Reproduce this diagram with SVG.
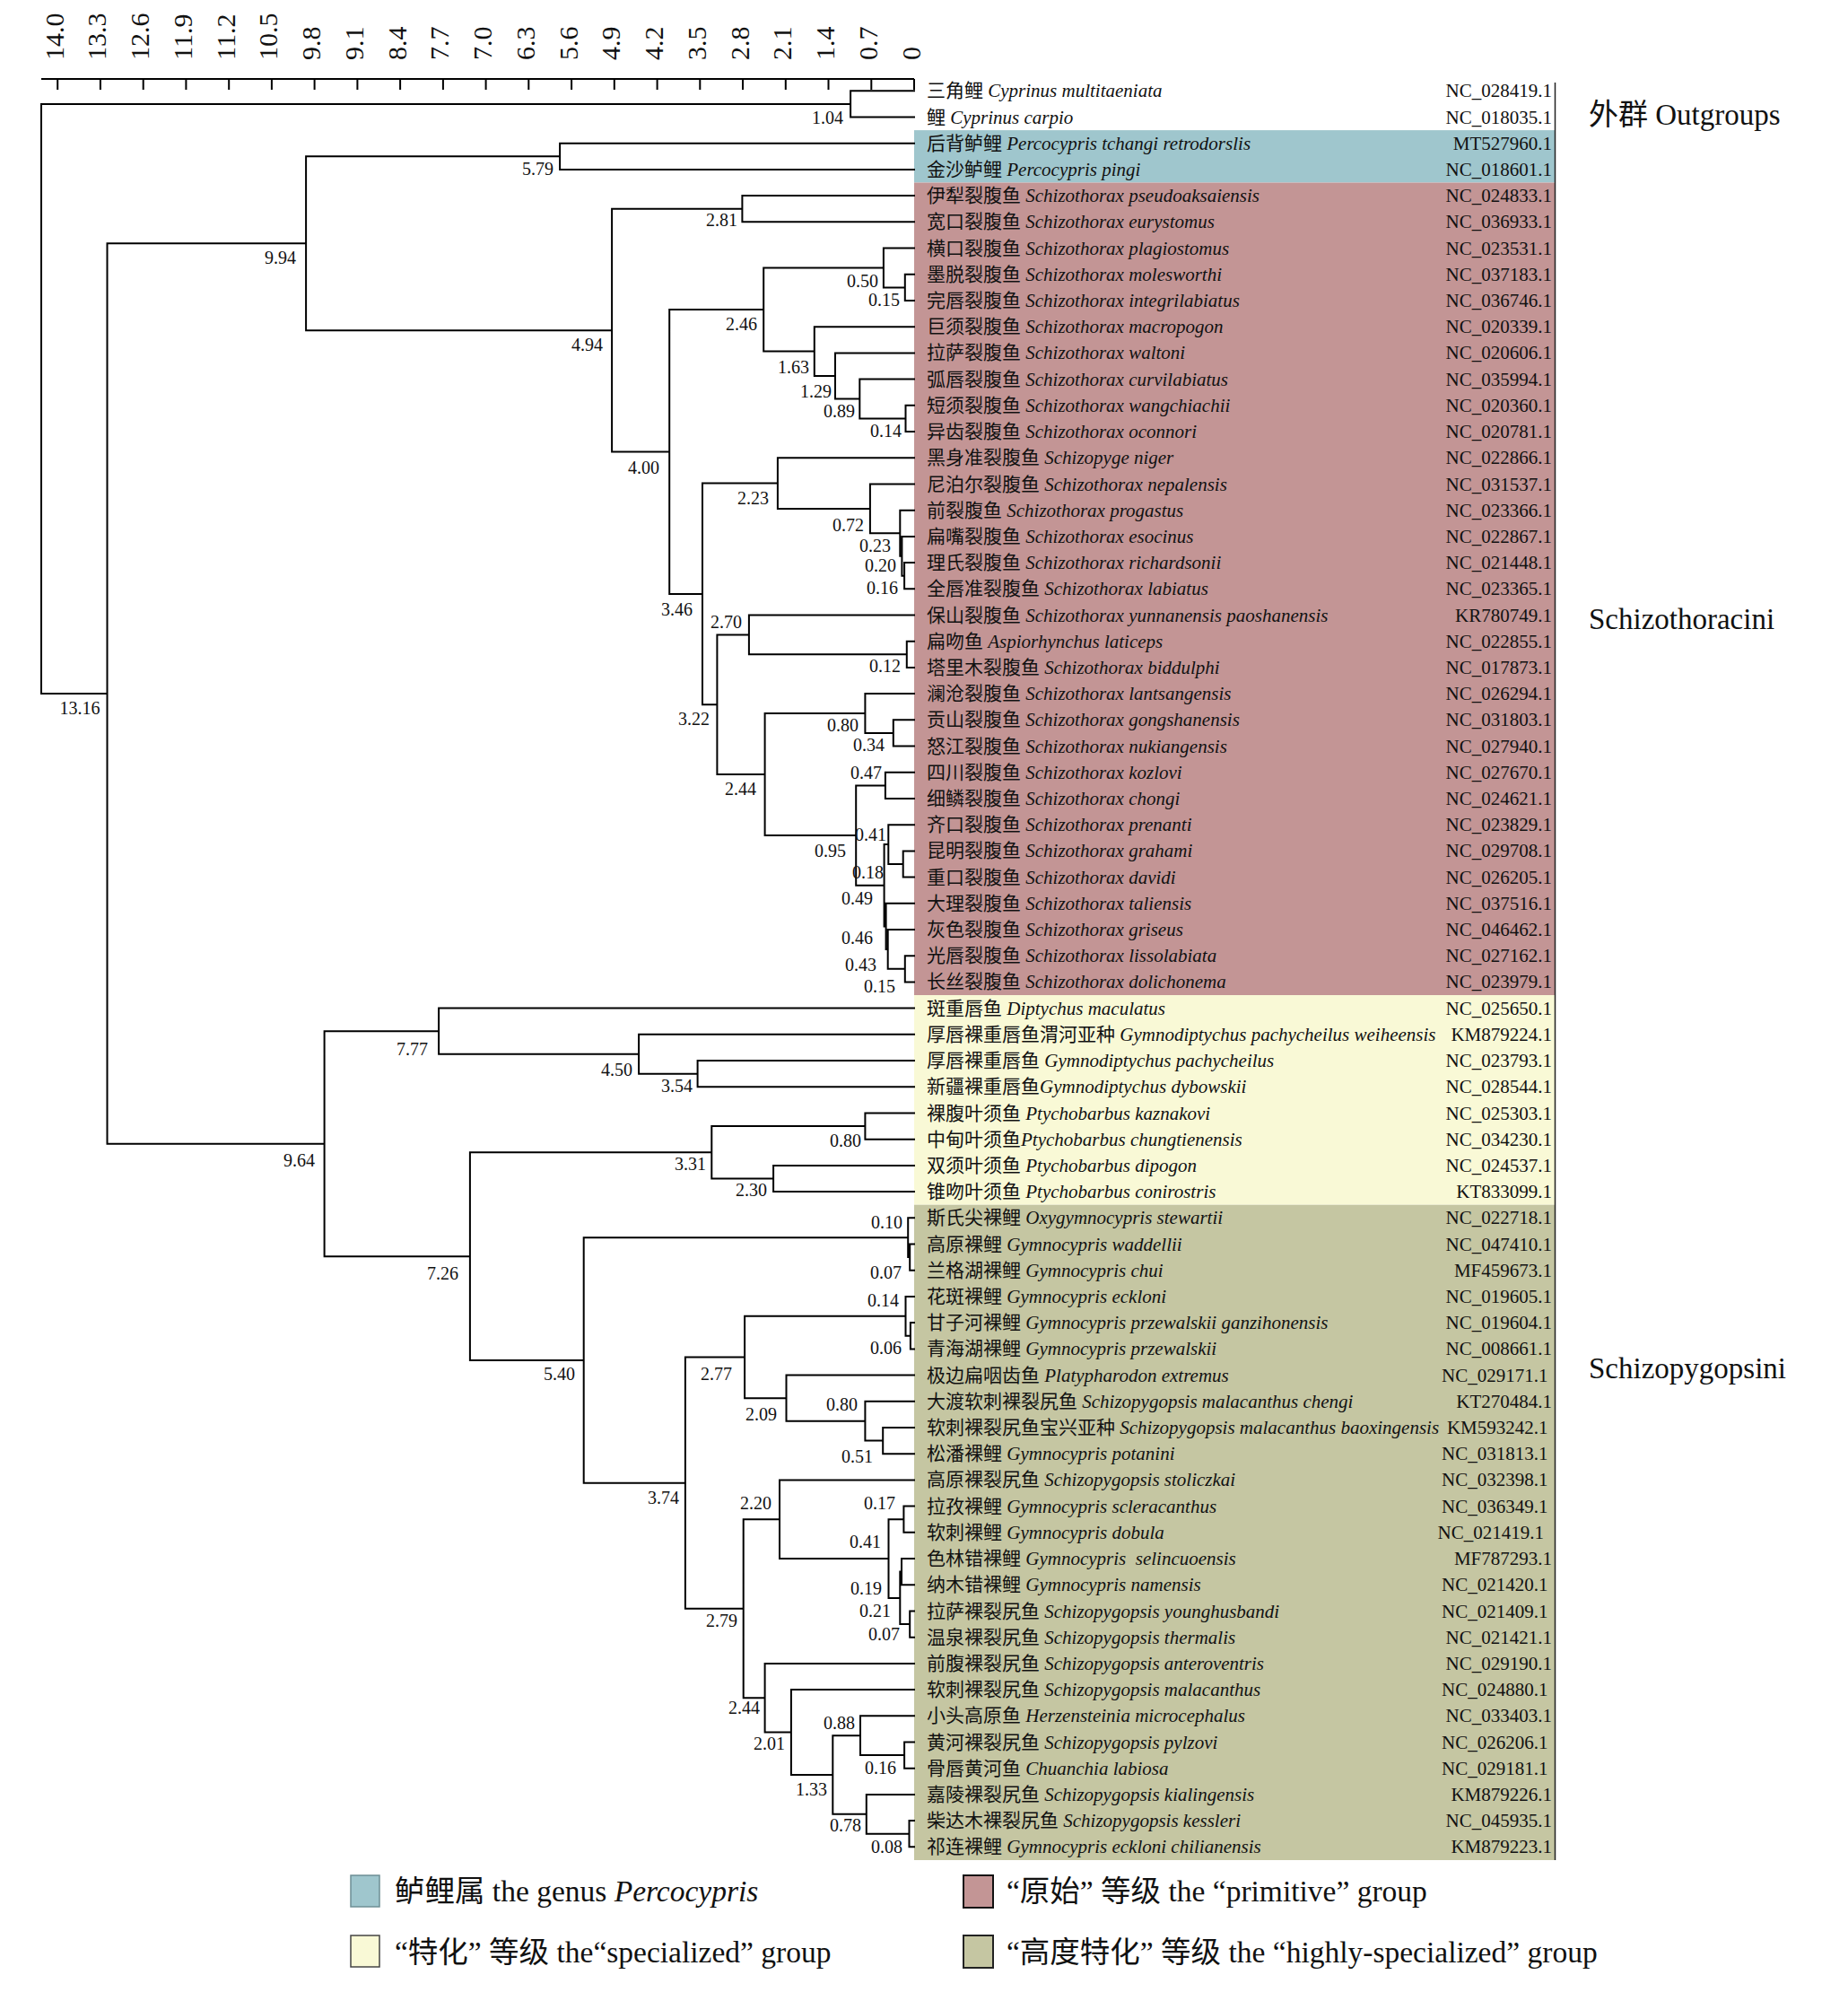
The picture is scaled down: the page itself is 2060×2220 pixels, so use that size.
<svg xmlns="http://www.w3.org/2000/svg" width="2060" height="2220" viewBox="0 0 2060 2220">
<style>
text{font-family:"Liberation Serif","Noto Sans CJK SC",serif;fill:#111}
.sp{font-size:21px}
.it{font-style:italic}
.acc{font-size:21px;text-anchor:end}
.bl{font-size:20px;text-anchor:end}
.grp{font-size:33px}
.ax{font-size:30px;dominant-baseline:central}
.lg{font-size:33.5px}
.br{fill:none;stroke:#000;stroke-width:2;stroke-linecap:square;stroke-linejoin:miter}
.tk{fill:none;stroke:#000;stroke-width:2}
</style>
<rect width="2060" height="2220" fill="#fff"/>
<g id="bands">
<rect x="1019" y="145.1" width="714" height="58.4" fill="#9fc6cd"/>
<rect x="1019" y="203.5" width="714" height="905.5" fill="#c39595"/>
<rect x="1019" y="1109" width="714" height="233.7" fill="#f9f9d6"/>
<rect x="1019" y="1342.7" width="714" height="730.3" fill="#c5c6a2"/>
<line x1="1733.5" y1="92" x2="1733.5" y2="2073" stroke="#222" stroke-width="1.5"/>
</g>
<g id="axis">
<path class="tk" d="M46 88H1019M64.2 88V100M111.9 88V100M159.7 88V100M207.4 88V100M255.2 88V100M302.9 88V100M350.6 88V100M398.4 88V100M446.1 88V100M493.9 88V100M541.6 88V100M589.3 88V100M637.1 88V100M684.8 88V100M732.6 88V100M780.3 88V100M828 88V100M875.8 88V100M923.5 88V100M971.3 88V100M1019 88V100"/>
<text class="ax" transform="translate(60.2,67) rotate(-90)">14.0</text>
<text class="ax" transform="translate(107.9,67) rotate(-90)">13.3</text>
<text class="ax" transform="translate(155.7,67) rotate(-90)">12.6</text>
<text class="ax" transform="translate(203.4,67) rotate(-90)">11.9</text>
<text class="ax" transform="translate(251.2,67) rotate(-90)">11.2</text>
<text class="ax" transform="translate(298.9,67) rotate(-90)">10.5</text>
<text class="ax" transform="translate(346.6,67) rotate(-90)">9.8</text>
<text class="ax" transform="translate(394.4,67) rotate(-90)">9.1</text>
<text class="ax" transform="translate(442.1,67) rotate(-90)">8.4</text>
<text class="ax" transform="translate(489.9,67) rotate(-90)">7.7</text>
<text class="ax" transform="translate(537.6,67) rotate(-90)">7.0</text>
<text class="ax" transform="translate(585.3,67) rotate(-90)">6.3</text>
<text class="ax" transform="translate(633.1,67) rotate(-90)">5.6</text>
<text class="ax" transform="translate(680.8,67) rotate(-90)">4.9</text>
<text class="ax" transform="translate(728.6,67) rotate(-90)">4.2</text>
<text class="ax" transform="translate(776.3,67) rotate(-90)">3.5</text>
<text class="ax" transform="translate(824,67) rotate(-90)">2.8</text>
<text class="ax" transform="translate(871.8,67) rotate(-90)">2.1</text>
<text class="ax" transform="translate(919.5,67) rotate(-90)">1.4</text>
<text class="ax" transform="translate(967.3,67) rotate(-90)">0.7</text>
<text class="ax" transform="translate(1015,67) rotate(-90)">0</text>
</g>
<g id="connectors">
<path class="br" d="M948.1 115.9H46V773H119.5
M341.1 271.3H119.5V1274.7H361.6
M624.1 174.3H341.1V368.2H682.1
M1019 159.7H624.1V188.9H1019
M1019 101.3H948.1V130.5H1019
M827.4 232.7H682.1V503.6H746.2
M1019 218.1H827.4V247.3H1019
M851.2 345.1H746.2V662H783
M984.9 298.5H851.2V391.6H907.8
M1019 276.6H984.9V320.4H1008.8
M1019 305.8H1008.8V335H1019
M1019 364.2H907.8V419H931
M1019 393.4H931V444.5H958.3
M1019 422.6H958.3V466.4H1009.5
M1019 451.8H1009.5V481H1019
M866.9 538.6H783V785.3H799.4
M1019 510.2H866.9V566.9H969.9
M1019 539.5H969.9V594.3H1003.3
M1019 568.7H1003.3V619.8H1005.4
M1019 597.9H1005.4V641.7H1008.1
M1019 627.1H1008.1V656.3H1019
M834.9 707.4H799.4V863.1H852.6
M1019 685.5H834.9V729.3H1010.8
M1019 714.7H1010.8V743.9H1019
M964.4 795H852.6V931.1H954.2
M1019 773.1H964.4V816.9H995.8
M1019 802.3H995.8V831.5H1019
M986.9 875.4H954.2V986.8H985.6
M1019 860.8H986.9V890H1019
M990.3 941.1H985.6V1032.4H987.6
M1019 919.2H990.3V963H1006.7
M1019 948.4H1006.7V977.6H1019
M1019 1006.8H987.6V1057.9H989.7
M1019 1036H989.7V1079.8H1008.8
M1019 1065.2H1008.8V1094.4H1019
M489.1 1149.2H361.6V1400.2H523.9
M1019 1123.6H489.1V1174.8H712.1
M1019 1152.8H712.1V1196.7H777.6
M1019 1182.1H777.6V1211.3H1019
M793.3 1284.3H523.9V1516H650.7
M964.4 1255.1H793.3V1313.5H862.1
M1019 1240.5H964.4V1269.7H1019
M1019 1298.9H862.1V1328.1H1019
M1012.2 1379.2H650.7V1652.7H763.9
M1019 1357.3H1012.2V1401.1H1014.2
M1019 1386.5H1014.2V1415.7H1019
M830.1 1512.5H763.9V1792.8H828.7
M1009.5 1466.8H830.1V1558.2H876.5
M1019 1444.9H1009.5V1488.8H1014.9
M1019 1474.1H1014.9V1503.4H1019
M1019 1532.6H876.5V1583.7H964.4
M1019 1561.8H964.4V1605.6H984.2
M1019 1591H984.2V1620.2H1019
M869 1693.2H828.7V1892.3H852.6
M1019 1649.4H869V1737H990.5
M1007.4 1693.2H990.5V1780.9H1003.3
M1019 1678.6H1007.4V1707.8H1019
M1005 1751.6H1003.3V1810.1H1014.2
M1019 1737H1005V1766.2H1019
M1019 1795.5H1014.2V1824.7H1019
M1019 1853.9H852.6V1930.6H881.9
M1019 1883.1H881.9V1978H928.3
M959 1934.2H928.3V2021.8H965.8
M1019 1912.3H959V1956.1H1008.1
M1019 1941.5H1008.1V1970.7H1019
M1019 1999.9H965.8V2043.7H1013.5
M1019 2029.1H1013.5V2058.3H1019"/>
</g>
<g id="node-labels">
<g id="n104"><text class="bl" x="940" y="138">1.04</text></g>
<g id="n579"><text class="bl" x="617" y="195">5.79</text></g>
<g id="n994"><text class="bl" x="330" y="294">9.94</text></g>
<g id="n1316"><text class="bl" x="111.5" y="796">13.16</text></g>
<g id="n281"><text class="bl" x="822" y="252">2.81</text></g>
<g id="n494"><text class="bl" x="672" y="391">4.94</text></g>
<g id="n400"><text class="bl" x="735" y="528">4.00</text></g>
<g id="n246"><text class="bl" x="844" y="368">2.46</text></g>
<g id="n050"><text class="bl" x="979" y="320">0.50</text></g>
<g id="n015a"><text class="bl" x="1003" y="341">0.15</text></g>
<g id="n163"><text class="bl" x="902" y="416">1.63</text></g>
<g id="n129"><text class="bl" x="927" y="443">1.29</text></g>
<g id="n089"><text class="bl" x="953" y="465">0.89</text></g>
<g id="n014a"><text class="bl" x="1005" y="487">0.14</text></g>
<g id="n223"><text class="bl" x="857" y="562">2.23</text></g>
<g id="n072"><text class="bl" x="963" y="592">0.72</text></g>
<g id="n023"><text class="bl" x="993" y="615">0.23</text></g>
<g id="n020"><text class="bl" x="999" y="637">0.20</text></g>
<g id="n016a"><text class="bl" x="1001" y="662">0.16</text></g>
<g id="n346"><text class="bl" x="772" y="686">3.46</text></g>
<g id="n270"><text class="bl" x="827" y="700">2.70</text></g>
<g id="n012"><text class="bl" x="1004" y="749">0.12</text></g>
<g id="n322"><text class="bl" x="791" y="808">3.22</text></g>
<g id="n080a"><text class="bl" x="957" y="815">0.80</text></g>
<g id="n034"><text class="bl" x="986" y="837">0.34</text></g>
<g id="n244a"><text class="bl" x="843" y="886">2.44</text></g>
<g id="n047"><text class="bl" x="983" y="868">0.47</text></g>
<g id="n095"><text class="bl" x="943" y="955">0.95</text></g>
<g id="n041a"><text class="bl" x="988" y="937">0.41</text></g>
<g id="n018"><text class="bl" x="985" y="979">0.18</text></g>
<g id="n049"><text class="bl" x="973" y="1008">0.49</text></g>
<g id="n046"><text class="bl" x="973" y="1052">0.46</text></g>
<g id="n043"><text class="bl" x="977" y="1082">0.43</text></g>
<g id="n015b"><text class="bl" x="998" y="1106">0.15</text></g>
<g id="n777"><text class="bl" x="477" y="1176">7.77</text></g>
<g id="n450"><text class="bl" x="705" y="1199">4.50</text></g>
<g id="n354"><text class="bl" x="772" y="1217">3.54</text></g>
<g id="n964"><text class="bl" x="351" y="1300">9.64</text></g>
<g id="n080b"><text class="bl" x="960" y="1278">0.80</text></g>
<g id="n331"><text class="bl" x="787" y="1304">3.31</text></g>
<g id="n230"><text class="bl" x="855" y="1333">2.30</text></g>
<g id="n726"><text class="bl" x="511" y="1426">7.26</text></g>
<g id="n010"><text class="bl" x="1006" y="1369">0.10</text></g>
<g id="n007a"><text class="bl" x="1005" y="1425">0.07</text></g>
<g id="n014b"><text class="bl" x="1002" y="1456">0.14</text></g>
<g id="n006"><text class="bl" x="1005" y="1509">0.06</text></g>
<g id="n540"><text class="bl" x="641" y="1538">5.40</text></g>
<g id="n277"><text class="bl" x="816" y="1538">2.77</text></g>
<g id="n209"><text class="bl" x="866" y="1583">2.09</text></g>
<g id="n080c"><text class="bl" x="956" y="1572">0.80</text></g>
<g id="n051"><text class="bl" x="973" y="1630">0.51</text></g>
<g id="n374"><text class="bl" x="757" y="1676">3.74</text></g>
<g id="n220"><text class="bl" x="860" y="1682">2.20</text></g>
<g id="n017"><text class="bl" x="998" y="1682">0.17</text></g>
<g id="n041b"><text class="bl" x="982" y="1725">0.41</text></g>
<g id="n019"><text class="bl" x="983" y="1777">0.19</text></g>
<g id="n021"><text class="bl" x="993" y="1802">0.21</text></g>
<g id="n007b"><text class="bl" x="1003" y="1828">0.07</text></g>
<g id="n279"><text class="bl" x="822" y="1813">2.79</text></g>
<g id="n244b"><text class="bl" x="847" y="1910">2.44</text></g>
<g id="n088"><text class="bl" x="953" y="1927">0.88</text></g>
<g id="n201"><text class="bl" x="875" y="1950">2.01</text></g>
<g id="n016b"><text class="bl" x="999" y="1977">0.16</text></g>
<g id="n133"><text class="bl" x="922" y="2001">1.33</text></g>
<g id="n078"><text class="bl" x="960" y="2041">0.78</text></g>
<g id="n008"><text class="bl" x="1006" y="2065">0.08</text></g>
</g>
<g id="tips">
<g id="t01"><text class="sp" x="1033" y="108.3">三角鲤 <tspan class="it">Cyprinus multitaeniata</tspan></text><text class="acc" x="1730" y="108.3">NC_028419.1</text></g>
<g id="t02"><text class="sp" x="1033" y="137.5">鲤 <tspan class="it">Cyprinus carpio</tspan></text><text class="acc" x="1730" y="137.5">NC_018035.1</text></g>
<g id="t03"><text class="sp" x="1033" y="166.7">后背鲈鲤 <tspan class="it">Percocypris tchangi retrodorslis</tspan></text><text class="acc" x="1730" y="166.7">MT527960.1</text></g>
<g id="t04"><text class="sp" x="1033" y="195.9">金沙鲈鲤 <tspan class="it">Percocypris pingi</tspan></text><text class="acc" x="1730" y="195.9">NC_018601.1</text></g>
<g id="t05"><text class="sp" x="1033" y="225.1">伊犁裂腹鱼 <tspan class="it">Schizothorax pseudoaksaiensis</tspan></text><text class="acc" x="1730" y="225.1">NC_024833.1</text></g>
<g id="t06"><text class="sp" x="1033" y="254.3">宽口裂腹鱼 <tspan class="it">Schizothorax eurystomus</tspan></text><text class="acc" x="1730" y="254.3">NC_036933.1</text></g>
<g id="t07"><text class="sp" x="1033" y="283.6">横口裂腹鱼 <tspan class="it">Schizothorax plagiostomus</tspan></text><text class="acc" x="1730" y="283.6">NC_023531.1</text></g>
<g id="t08"><text class="sp" x="1033" y="312.8">墨脱裂腹鱼 <tspan class="it">Schizothorax molesworthi</tspan></text><text class="acc" x="1730" y="312.8">NC_037183.1</text></g>
<g id="t09"><text class="sp" x="1033" y="342">完唇裂腹鱼 <tspan class="it">Schizothorax integrilabiatus</tspan></text><text class="acc" x="1730" y="342">NC_036746.1</text></g>
<g id="t10"><text class="sp" x="1033" y="371.2">巨须裂腹鱼 <tspan class="it">Schizothorax macropogon</tspan></text><text class="acc" x="1730" y="371.2">NC_020339.1</text></g>
<g id="t11"><text class="sp" x="1033" y="400.4">拉萨裂腹鱼 <tspan class="it">Schizothorax waltoni</tspan></text><text class="acc" x="1730" y="400.4">NC_020606.1</text></g>
<g id="t12"><text class="sp" x="1033" y="429.6">弧唇裂腹鱼 <tspan class="it">Schizothorax curvilabiatus</tspan></text><text class="acc" x="1730" y="429.6">NC_035994.1</text></g>
<g id="t13"><text class="sp" x="1033" y="458.8">短须裂腹鱼 <tspan class="it">Schizothorax wangchiachii</tspan></text><text class="acc" x="1730" y="458.8">NC_020360.1</text></g>
<g id="t14"><text class="sp" x="1033" y="488">异齿裂腹鱼 <tspan class="it">Schizothorax oconnori</tspan></text><text class="acc" x="1730" y="488">NC_020781.1</text></g>
<g id="t15"><text class="sp" x="1033" y="517.2">黑身准裂腹鱼 <tspan class="it">Schizopyge niger</tspan></text><text class="acc" x="1730" y="517.2">NC_022866.1</text></g>
<g id="t16"><text class="sp" x="1033" y="546.5">尼泊尔裂腹鱼 <tspan class="it">Schizothorax nepalensis</tspan></text><text class="acc" x="1730" y="546.5">NC_031537.1</text></g>
<g id="t17"><text class="sp" x="1033" y="575.7">前裂腹鱼 <tspan class="it">Schizothorax progastus</tspan></text><text class="acc" x="1730" y="575.7">NC_023366.1</text></g>
<g id="t18"><text class="sp" x="1033" y="604.9">扁嘴裂腹鱼 <tspan class="it">Schizothorax esocinus</tspan></text><text class="acc" x="1730" y="604.9">NC_022867.1</text></g>
<g id="t19"><text class="sp" x="1033" y="634.1">理氏裂腹鱼 <tspan class="it">Schizothorax richardsonii</tspan></text><text class="acc" x="1730" y="634.1">NC_021448.1</text></g>
<g id="t20"><text class="sp" x="1033" y="663.3">全唇准裂腹鱼 <tspan class="it">Schizothorax labiatus</tspan></text><text class="acc" x="1730" y="663.3">NC_023365.1</text></g>
<g id="t21"><text class="sp" x="1033" y="692.5">保山裂腹鱼 <tspan class="it">Schizothorax yunnanensis paoshanensis</tspan></text><text class="acc" x="1730" y="692.5">KR780749.1</text></g>
<g id="t22"><text class="sp" x="1033" y="721.7">扁吻鱼 <tspan class="it">Aspiorhynchus laticeps</tspan></text><text class="acc" x="1730" y="721.7">NC_022855.1</text></g>
<g id="t23"><text class="sp" x="1033" y="750.9">塔里木裂腹鱼 <tspan class="it">Schizothorax biddulphi</tspan></text><text class="acc" x="1730" y="750.9">NC_017873.1</text></g>
<g id="t24"><text class="sp" x="1033" y="780.1">澜沧裂腹鱼 <tspan class="it">Schizothorax lantsangensis</tspan></text><text class="acc" x="1730" y="780.1">NC_026294.1</text></g>
<g id="t25"><text class="sp" x="1033" y="809.3">贡山裂腹鱼 <tspan class="it">Schizothorax gongshanensis</tspan></text><text class="acc" x="1730" y="809.3">NC_031803.1</text></g>
<g id="t26"><text class="sp" x="1033" y="838.5">怒江裂腹鱼 <tspan class="it">Schizothorax nukiangensis</tspan></text><text class="acc" x="1730" y="838.5">NC_027940.1</text></g>
<g id="t27"><text class="sp" x="1033" y="867.8">四川裂腹鱼 <tspan class="it">Schizothorax kozlovi</tspan></text><text class="acc" x="1730" y="867.8">NC_027670.1</text></g>
<g id="t28"><text class="sp" x="1033" y="897">细鳞裂腹鱼 <tspan class="it">Schizothorax chongi</tspan></text><text class="acc" x="1730" y="897">NC_024621.1</text></g>
<g id="t29"><text class="sp" x="1033" y="926.2">齐口裂腹鱼 <tspan class="it">Schizothorax prenanti</tspan></text><text class="acc" x="1730" y="926.2">NC_023829.1</text></g>
<g id="t30"><text class="sp" x="1033" y="955.4">昆明裂腹鱼 <tspan class="it">Schizothorax grahami</tspan></text><text class="acc" x="1730" y="955.4">NC_029708.1</text></g>
<g id="t31"><text class="sp" x="1033" y="984.6">重口裂腹鱼 <tspan class="it">Schizothorax davidi</tspan></text><text class="acc" x="1730" y="984.6">NC_026205.1</text></g>
<g id="t32"><text class="sp" x="1033" y="1013.8">大理裂腹鱼 <tspan class="it">Schizothorax taliensis</tspan></text><text class="acc" x="1730" y="1013.8">NC_037516.1</text></g>
<g id="t33"><text class="sp" x="1033" y="1043">灰色裂腹鱼 <tspan class="it">Schizothorax griseus</tspan></text><text class="acc" x="1730" y="1043">NC_046462.1</text></g>
<g id="t34"><text class="sp" x="1033" y="1072.2">光唇裂腹鱼 <tspan class="it">Schizothorax lissolabiata</tspan></text><text class="acc" x="1730" y="1072.2">NC_027162.1</text></g>
<g id="t35"><text class="sp" x="1033" y="1101.4">长丝裂腹鱼 <tspan class="it">Schizothorax dolichonema</tspan></text><text class="acc" x="1730" y="1101.4">NC_023979.1</text></g>
<g id="t36"><text class="sp" x="1033" y="1130.6">斑重唇鱼 <tspan class="it">Diptychus maculatus</tspan></text><text class="acc" x="1730" y="1130.6">NC_025650.1</text></g>
<g id="t37"><text class="sp" x="1033" y="1159.8">厚唇裸重唇鱼渭河亚种 <tspan class="it">Gymnodiptychus pachycheilus weiheensis</tspan></text><text class="acc" x="1730" y="1159.8">KM879224.1</text></g>
<g id="t38"><text class="sp" x="1033" y="1189.1">厚唇裸重唇鱼 <tspan class="it">Gymnodiptychus pachycheilus</tspan></text><text class="acc" x="1730" y="1189.1">NC_023793.1</text></g>
<g id="t39"><text class="sp" x="1033" y="1218.3">新疆裸重唇鱼<tspan class="it">Gymnodiptychus dybowskii</tspan></text><text class="acc" x="1730" y="1218.3">NC_028544.1</text></g>
<g id="t40"><text class="sp" x="1033" y="1247.5">裸腹叶须鱼 <tspan class="it">Ptychobarbus kaznakovi</tspan></text><text class="acc" x="1730" y="1247.5">NC_025303.1</text></g>
<g id="t41"><text class="sp" x="1033" y="1276.7">中甸叶须鱼<tspan class="it">Ptychobarbus chungtienensis</tspan></text><text class="acc" x="1730" y="1276.7">NC_034230.1</text></g>
<g id="t42"><text class="sp" x="1033" y="1305.9">双须叶须鱼 <tspan class="it">Ptychobarbus dipogon</tspan></text><text class="acc" x="1730" y="1305.9">NC_024537.1</text></g>
<g id="t43"><text class="sp" x="1033" y="1335.1">锥吻叶须鱼 <tspan class="it">Ptychobarbus conirostris</tspan></text><text class="acc" x="1730" y="1335.1">KT833099.1</text></g>
<g id="t44"><text class="sp" x="1033" y="1364.3">斯氏尖裸鲤 <tspan class="it">Oxygymnocypris stewartii</tspan></text><text class="acc" x="1730" y="1364.3">NC_022718.1</text></g>
<g id="t45"><text class="sp" x="1033" y="1393.5">高原裸鲤 <tspan class="it">Gymnocypris waddellii</tspan></text><text class="acc" x="1730" y="1393.5">NC_047410.1</text></g>
<g id="t46"><text class="sp" x="1033" y="1422.7">兰格湖裸鲤 <tspan class="it">Gymnocypris chui</tspan></text><text class="acc" x="1730" y="1422.7">MF459673.1</text></g>
<g id="t47"><text class="sp" x="1033" y="1451.9">花斑裸鲤 <tspan class="it">Gymnocypris eckloni</tspan></text><text class="acc" x="1730" y="1451.9">NC_019605.1</text></g>
<g id="t48"><text class="sp" x="1033" y="1481.1">甘子河裸鲤 <tspan class="it">Gymnocypris przewalskii ganzihonensis</tspan></text><text class="acc" x="1730" y="1481.1">NC_019604.1</text></g>
<g id="t49"><text class="sp" x="1033" y="1510.4">青海湖裸鲤 <tspan class="it">Gymnocypris przewalskii</tspan></text><text class="acc" x="1730" y="1510.4">NC_008661.1</text></g>
<g id="t50"><text class="sp" x="1033" y="1539.6">极边扁咽齿鱼 <tspan class="it">Platypharodon extremus</tspan></text><text class="acc" x="1725.5" y="1539.6">NC_029171.1</text></g>
<g id="t51"><text class="sp" x="1033" y="1568.8">大渡软刺裸裂尻鱼 <tspan class="it">Schizopygopsis malacanthus chengi</tspan></text><text class="acc" x="1730" y="1568.8">KT270484.1</text></g>
<g id="t52"><text class="sp" x="1033" y="1598">软刺裸裂尻鱼宝兴亚种 <tspan class="it">Schizopygopsis malacanthus baoxingensis</tspan></text><text class="acc" x="1725.5" y="1598">KM593242.1</text></g>
<g id="t53"><text class="sp" x="1033" y="1627.2">松潘裸鲤 <tspan class="it">Gymnocypris potanini</tspan></text><text class="acc" x="1725.5" y="1627.2">NC_031813.1</text></g>
<g id="t54"><text class="sp" x="1033" y="1656.4">高原裸裂尻鱼 <tspan class="it">Schizopygopsis stoliczkai</tspan></text><text class="acc" x="1725.5" y="1656.4">NC_032398.1</text></g>
<g id="t55"><text class="sp" x="1033" y="1685.6">拉孜裸鲤 <tspan class="it">Gymnocypris scleracanthus</tspan></text><text class="acc" x="1725.5" y="1685.6">NC_036349.1</text></g>
<g id="t56"><text class="sp" x="1033" y="1714.8">软刺裸鲤 <tspan class="it">Gymnocypris dobula</tspan></text><text class="acc" x="1721" y="1714.8">NC_021419.1</text></g>
<g id="t57"><text class="sp" x="1033" y="1744" xml:space="preserve">色林错裸鲤 <tspan class="it">Gymnocypris  selincuoensis</tspan></text><text class="acc" x="1730" y="1744">MF787293.1</text></g>
<g id="t58"><text class="sp" x="1033" y="1773.2">纳木错裸鲤 <tspan class="it">Gymnocypris namensis</tspan></text><text class="acc" x="1725.5" y="1773.2">NC_021420.1</text></g>
<g id="t59"><text class="sp" x="1033" y="1802.5">拉萨裸裂尻鱼 <tspan class="it">Schizopygopsis younghusbandi</tspan></text><text class="acc" x="1725.5" y="1802.5">NC_021409.1</text></g>
<g id="t60"><text class="sp" x="1033" y="1831.7">温泉裸裂尻鱼 <tspan class="it">Schizopygopsis thermalis</tspan></text><text class="acc" x="1730" y="1831.7">NC_021421.1</text></g>
<g id="t61"><text class="sp" x="1033" y="1860.9">前腹裸裂尻鱼 <tspan class="it">Schizopygopsis anteroventris</tspan></text><text class="acc" x="1730" y="1860.9">NC_029190.1</text></g>
<g id="t62"><text class="sp" x="1033" y="1890.1">软刺裸裂尻鱼 <tspan class="it">Schizopygopsis malacanthus</tspan></text><text class="acc" x="1725.5" y="1890.1">NC_024880.1</text></g>
<g id="t63"><text class="sp" x="1033" y="1919.3">小头高原鱼 <tspan class="it">Herzensteinia microcephalus</tspan></text><text class="acc" x="1730" y="1919.3">NC_033403.1</text></g>
<g id="t64"><text class="sp" x="1033" y="1948.5">黄河裸裂尻鱼 <tspan class="it">Schizopygopsis pylzovi</tspan></text><text class="acc" x="1725.5" y="1948.5">NC_026206.1</text></g>
<g id="t65"><text class="sp" x="1033" y="1977.7">骨唇黄河鱼 <tspan class="it">Chuanchia labiosa</tspan></text><text class="acc" x="1725.5" y="1977.7">NC_029181.1</text></g>
<g id="t66"><text class="sp" x="1033" y="2006.9">嘉陵裸裂尻鱼 <tspan class="it">Schizopygopsis kialingensis</tspan></text><text class="acc" x="1730" y="2006.9">KM879226.1</text></g>
<g id="t67"><text class="sp" x="1033" y="2036.1">柴达木裸裂尻鱼 <tspan class="it">Schizopygopsis kessleri</tspan></text><text class="acc" x="1730" y="2036.1">NC_045935.1</text></g>
<g id="t68"><text class="sp" x="1033" y="2065.3">祁连裸鲤 <tspan class="it">Gymnocypris eckloni chilianensis</tspan></text><text class="acc" x="1730" y="2065.3">KM879223.1</text></g>
</g>
<g id="groups">
<text class="grp" x="1771" y="139">外群 Outgroups</text>
<text class="grp" x="1771" y="701">Schizothoracini</text>
<text class="grp" x="1771" y="1536">Schizopygopsini</text>
</g>
<g id="legend">
<g id="lg-percocypris"><rect x="391" y="2090" width="32" height="35" fill="#9fc6cd" stroke="#6e8f95" stroke-width="1.5"/><text class="lg" x="440" y="2119">鲈鲤属 the genus <tspan class="it">Percocypris</tspan></text></g>
<g id="lg-primitive"><rect x="1074" y="2090" width="33" height="36" fill="#c39595" stroke="#111" stroke-width="2"/><text class="lg" x="1122" y="2119">“原始” 等级 the “primitive” group</text></g>
<g id="lg-specialized"><rect x="391" y="2157" width="32" height="35" fill="#f9f9d6" stroke="#444" stroke-width="1.5"/><text class="lg" x="440" y="2187">“特化” 等级 the“specialized” group</text></g>
<g id="lg-highly"><rect x="1074" y="2157" width="33" height="36" fill="#c5c6a2" stroke="#222" stroke-width="2"/><text class="lg" x="1122" y="2187">“高度特化” 等级 the “highly-specialized” group</text></g>
</g>
</svg>
